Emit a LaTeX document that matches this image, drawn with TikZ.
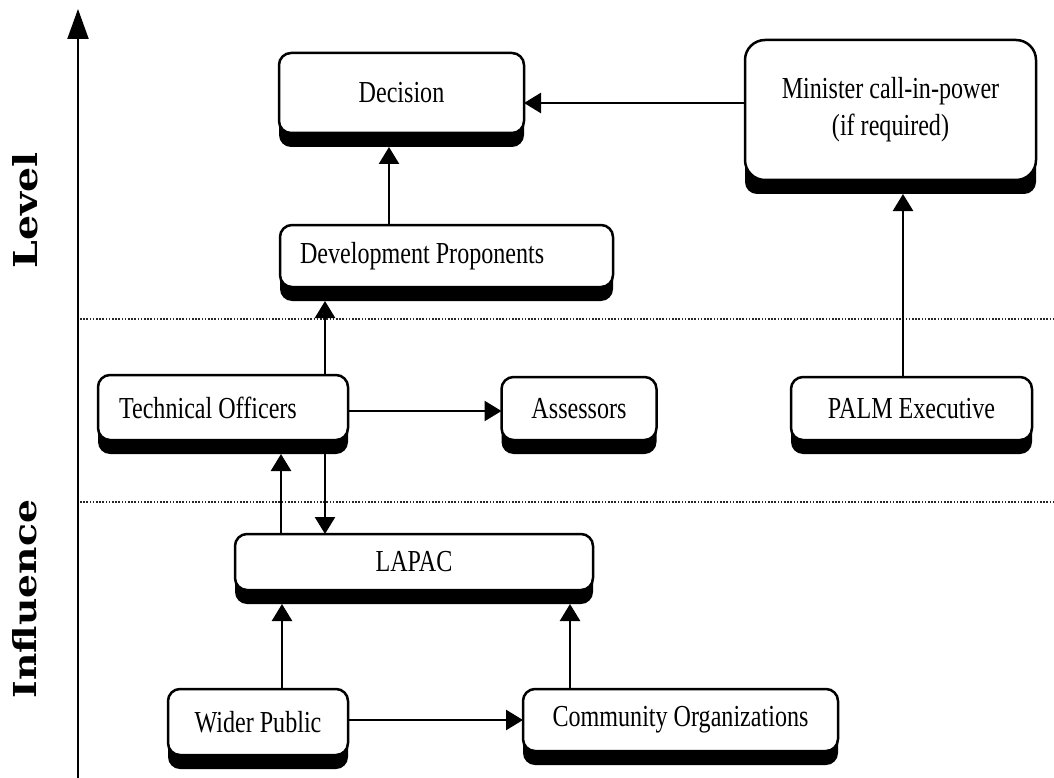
\documentclass[tikz,border=0pt]{standalone}
\usepackage{fontspec}
\usepackage{graphicx}
\setmainfont{Liberation Serif}[FakeStretch=0.79]
\newfontfamily\labfont{DejaVu Serif}
\usetikzlibrary{arrows.meta}

\tikzset{
  whitebox/.style={draw, fill=white, line width=2.5pt, rounded corners=12pt,
    inner sep=0pt, outer sep=0pt, font=\fontsize{30.5}{37}\selectfont, align=center},
  shadowbox/.style={fill=black, rounded corners=12pt, inner sep=0pt, outer sep=0pt},
  arr/.style={line width=2.5pt, -{Triangle[length=17pt,width=20pt]}},
  axisarr/.style={line width=2.2pt, -{Triangle[length=30pt,width=21pt]}},
  sepline/.style={line width=1.8pt, black!85, dash pattern=on 1.6pt off 1.6pt},
  axlabel/.style={rotate=90, inner sep=0pt, font=\labfont\bfseries},
}

\newcommand\mybox[7][]{%
  \node[shadowbox, minimum width=#5pt, minimum height=#6pt] (#2S) at (#3,#4+14) {};
  \node[whitebox, minimum width=#5pt, minimum height=#6pt, #1] (#2) at (#3,#4) {#7};
}

\begin{document}
\begin{tikzpicture}[x=1pt,y=-1pt]
\useasboundingbox (0,0) rectangle (1054,778);

% axis
\coordinate (axb) at (78,778);
\coordinate (axt) at (78,9);
\draw[axisarr] (axb) -- (axt);

% axis labels
\node[axlabel] (lev) at (25,210) {\resizebox{116pt}{25pt}{Level}};
\node[axlabel] (inf) at (25,599) {\resizebox{198pt}{24pt}{Influence}};

% separators
\coordinate (s1a) at (80,319);  \coordinate (s1b) at (1054,319);
\coordinate (s2a) at (80,502);  \coordinate (s2b) at (1054,502);
\draw[sepline] (s1a) -- (s1b);
\draw[sepline] (s2a) -- (s2b);

% boxes
\mybox{dec}{401.5}{93}{245}{80}{Decision}
\mybox[rounded corners=20pt]{min}{890.5}{110}{291}{140}{Minister call-in-power\\(if required)}
\mybox[align=flush left, text width=293pt, inner xsep=20pt]{dp}{446.5}{256}{333}{62}{Development Proponents}
\mybox[align=flush left, text width=208pt, inner xsep=21pt]{to}{223}{407.5}{250}{65}{Technical Officers}
\mybox{as}{579}{408.5}{155}{63}{Assessors}
\mybox{palm}{911.5}{408.5}{241}{63}{PALM Executive}
\mybox{lapac}{414}{562}{358}{56}{LAPAC}
\mybox{wp}{258}{722}{180}{66}{Wider Public}
\mybox{co}{680.5}{720}{315}{62}{Community Organizations}

% connectors
\draw[arr] (min.west |- 0,103) -- (dec.east |- 0,103);
\draw[arr] (dp.north -| 389,0) -- (decS.south -| 389,0);
\draw[arr] (to.north -| 325,0) -- (dpS.south -| 325,0);
\draw[arr] (to.east |- 0,411) -- (as.west |- 0,411);
\draw[arr] (palm.north -| 903,0) -- (minS.south -| 903,0);
\draw[arr] (lapac.north -| 281,0) -- (toS.south -| 281,0);
\draw[arr] (toS.south -| 325,0) -- (lapac.north -| 325,0);
\draw[arr] (wp.north -| 282,0) -- (lapacS.south -| 282,0);
\draw[arr] (co.north -| 570,0) -- (lapacS.south -| 570,0);
\draw[arr] (wp.east |- 0,720) -- (co.west |- 0,720);
\end{tikzpicture}
\end{document}
